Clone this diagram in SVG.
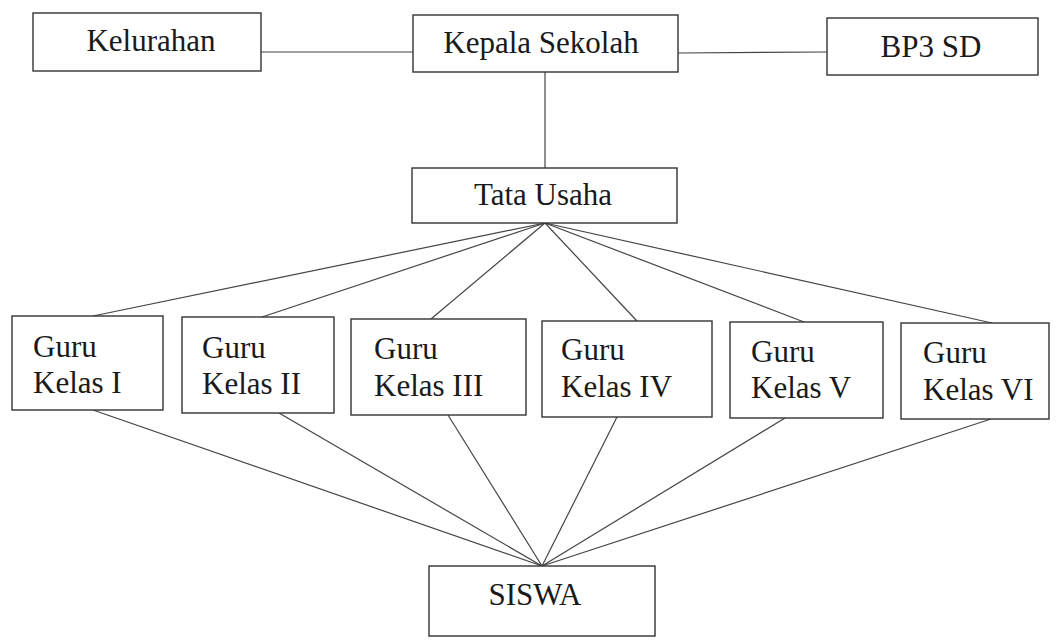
<svg xmlns="http://www.w3.org/2000/svg" width="1061" height="640" viewBox="0 0 1061 640">
<style>
.box{fill:#fff;stroke:#333;stroke-width:1.4}
.t{font-family:"Liberation Serif","Times New Roman",serif;font-size:31px;fill:#1a1a1a}
.c{text-anchor:middle}
.ln{stroke:#444;stroke-width:1.2;fill:none}
</style>
<rect width="1061" height="640" fill="#fff"/>
<g id="connectors">
<line class="ln" x1="261" y1="52" x2="413" y2="52"/>
<line class="ln" x1="678" y1="53" x2="827" y2="52"/>
<line class="ln" x1="545" y1="72" x2="545" y2="168"/>
<line class="ln" x1="545" y1="223" x2="93" y2="316"/>
<line class="ln" x1="545" y1="223" x2="262" y2="317"/>
<line class="ln" x1="545" y1="223" x2="431" y2="319"/>
<line class="ln" x1="545" y1="223" x2="637" y2="321"/>
<line class="ln" x1="545" y1="223" x2="804" y2="322"/>
<line class="ln" x1="545" y1="223" x2="992" y2="323"/>
<line class="ln" x1="93" y1="410" x2="542" y2="566"/>
<line class="ln" x1="279" y1="413" x2="542" y2="566"/>
<line class="ln" x1="448" y1="415" x2="542" y2="566"/>
<line class="ln" x1="617" y1="417" x2="542" y2="566"/>
<line class="ln" x1="785" y1="418" x2="542" y2="566"/>
<line class="ln" x1="991" y1="419" x2="542" y2="566"/>
</g>
<g id="kelurahan"><rect class="box" x="33" y="13" width="228" height="58"/><text class="t c" x="151" y="51">Kelurahan</text></g>
<g id="kepala-sekolah"><rect class="box" x="413" y="15" width="265" height="57"/><text class="t c" x="541" y="53">Kepala Sekolah</text></g>
<g id="bp3-sd"><rect class="box" x="827" y="18" width="211" height="57"/><text class="t c" x="931" y="57">BP3 SD</text></g>
<g id="tata-usaha"><rect class="box" x="412" y="168" width="265" height="55"/><text class="t c" x="543" y="205">Tata Usaha</text></g>
<g id="guru-1"><rect class="box" x="12" y="316" width="151" height="94"/><text class="t" x="33" y="357">Guru</text><text class="t" x="33" y="393">Kelas I</text></g>
<g id="guru-2"><rect class="box" x="182" y="317" width="152" height="96"/><text class="t" x="202" y="358">Guru</text><text class="t" x="202" y="394">Kelas II</text></g>
<g id="guru-3"><rect class="box" x="351" y="319" width="175" height="96"/><text class="t" x="374" y="359">Guru</text><text class="t" x="374" y="396">Kelas III</text></g>
<g id="guru-4"><rect class="box" x="542" y="321" width="170" height="96"/><text class="t" x="561" y="360">Guru</text><text class="t" x="561" y="397">Kelas IV</text></g>
<g id="guru-5"><rect class="box" x="730" y="322" width="153" height="96"/><text class="t" x="751" y="362">Guru</text><text class="t" x="751" y="398">Kelas V</text></g>
<g id="guru-6"><rect class="box" x="901" y="323" width="148" height="96"/><text class="t" x="923" y="363">Guru</text><text class="t" x="923" y="400">Kelas VI</text></g>
<g id="siswa"><rect class="box" x="429" y="566" width="226" height="70"/><text class="t c" x="535" y="605">SISWA</text></g>
</svg>
